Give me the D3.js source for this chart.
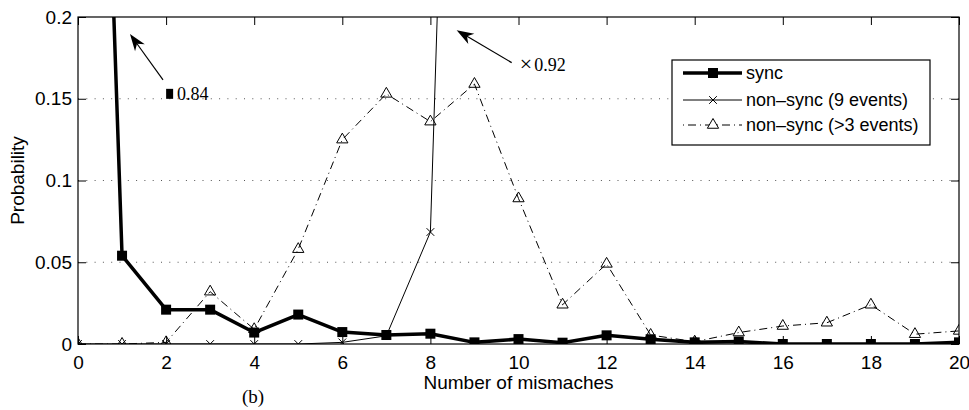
<!DOCTYPE html>
<html>
<head>
<meta charset="utf-8">
<script src="https://cdn.jsdelivr.net/npm/d3@7"></script>
<style>
  body { margin: 0; background: #fff; }
  svg { display: block; }
  text { font-family: "Liberation Sans", Arial, sans-serif; fill: #000; }
  .serif { font-family: "Liberation Serif", "Times New Roman", serif; }
</style>
</head>
<body>
<div id="chart"></div>
<script>
/* data */
var mismatches = d3.range(0, 21);
var syncVals = [0.84, 0.054, 0.021, 0.021, 0.007, 0.018, 0.0073, 0.0055, 0.0063, 0.001,
                0.003, 0.0008, 0.0053, 0.0029, 0.001, 0.0015, 0, 0, 0, 0, 0.001];
var nonSync9Vals = [0, 0, 0, 0, 0, 0, 0.001, 0.005, 0.0685, 0.92];
var nonSync3Vals = [0, 0, 0.001, 0.032, 0.009, 0.058, 0.125, 0.153, 0.136, 0.159,
                    0.089, 0.024, 0.049, 0.0055, 0.0014, 0.007, 0.011, 0.013, 0.024, 0.006, 0.008];
var xTicks = d3.range(0, 21, 2);
var yTicks = [0, 0.05, 0.1, 0.15, 0.2];
var seriesNames = ["sync", "non\u2013sync (9 events)", "non\u2013sync (>3 events)"];

var width = 969, height = 410;
var margin = {top: 17, right: 10, bottom: 66, left: 78};

var x = d3.scaleLinear().domain([0, 20]).range([margin.left, width - margin.right]);
var y = d3.scaleLinear().domain([0, 0.2]).range([height - margin.bottom, margin.top]);

var svg = d3.select("#chart").append("svg")
    .attr("width", width)
    .attr("height", height);

svg.append("defs").append("clipPath")
    .attr("id", "plotClip")
  .append("rect")
    .attr("x", x(0)).attr("y", y(0.2))
    .attr("width", x(20) - x(0)).attr("height", y(0) - y(0.2));

/* dotted horizontal grid */
svg.append("g").selectAll("line")
    .data(yTicks.filter(function(d) { return d > 0 && d < 0.2; }))
    .enter().append("line")
      .attr("x1", x(0)).attr("x2", x(20))
      .attr("y1", function(d) { return y(d); })
      .attr("y2", function(d) { return y(d); })
      .attr("stroke", "#555")
      .attr("stroke-width", 1)
      .attr("stroke-dasharray", "1,7.3");

/* axes with inward ticks on all four sides */
function styleAxis(g) {
  g.select(".domain").remove();
  g.selectAll(".tick line").attr("stroke", "#000");
  g.selectAll(".tick text").attr("font-size", 19).attr("font-family", "Liberation Sans, Arial, sans-serif");
}
svg.append("g")
    .attr("transform", "translate(0," + y(0) + ")")
    .call(d3.axisBottom(x).tickValues(xTicks).tickSizeInner(-8).tickSizeOuter(0).tickPadding(12).tickFormat(d3.format("d")))
    .call(styleAxis);
svg.append("g")
    .attr("transform", "translate(0," + y(0.2) + ")")
    .call(d3.axisTop(x).tickValues(xTicks).tickSizeInner(-8).tickSizeOuter(0).tickFormat(""))
    .call(styleAxis);
svg.append("g")
    .attr("transform", "translate(" + x(0) + ",0)")
    .call(d3.axisLeft(y).tickValues(yTicks).tickSizeInner(-8).tickSizeOuter(0).tickPadding(6).tickFormat(function(d) { return d === 0 ? "0" : String(d); }))
    .call(styleAxis);
svg.append("g")
    .attr("transform", "translate(" + x(20) + ",0)")
    .call(d3.axisRight(y).tickValues(yTicks).tickSizeInner(-8).tickSizeOuter(0).tickFormat(""))
    .call(styleAxis);

/* frame */
svg.append("rect")
    .attr("x", x(0)).attr("y", y(0.2))
    .attr("width", x(20) - x(0)).attr("height", y(0) - y(0.2))
    .attr("fill", "none").attr("stroke", "#000").attr("stroke-width", 1.2);

var plot = svg.append("g").attr("clip-path", "url(#plotClip)");

var line = d3.line()
    .x(function(d, i) { return x(i); })
    .y(function(d) { return y(d); });

/* non-sync (>3 events): dash-dot with open triangles */
plot.append("path")
    .datum(nonSync3Vals)
    .attr("d", line)
    .attr("fill", "none").attr("stroke", "#000").attr("stroke-width", 1)
    .attr("stroke-dasharray", "8,4,1,4");

var tri = d3.symbol().type(d3.symbolTriangle).size(55);
plot.append("g").selectAll("path")
    .data(nonSync3Vals)
    .enter().append("path")
      .attr("d", tri)
      .attr("transform", function(d, i) { return "translate(" + x(i) + "," + y(d) + ")"; })
      .attr("fill", "none").attr("stroke", "#000").attr("stroke-width", 1);

/* non-sync (9 events): thin line with x markers */
plot.append("path")
    .datum(nonSync9Vals)
    .attr("d", line)
    .attr("fill", "none").attr("stroke", "#000").attr("stroke-width", 1);

var cross = d3.symbol().type(d3.symbolX).size(40);
plot.append("g").selectAll("path")
    .data(nonSync9Vals)
    .enter().append("path")
      .attr("d", cross)
      .attr("transform", function(d, i) { return "translate(" + x(i) + "," + y(d) + ")"; })
      .attr("fill", "none").attr("stroke", "#000").attr("stroke-width", 1);

/* sync: thick line with filled squares */
plot.append("path")
    .datum(syncVals)
    .attr("d", line)
    .attr("fill", "none").attr("stroke", "#000").attr("stroke-width", 3.5)
    .attr("stroke-linejoin", "round");

plot.append("g").selectAll("rect")
    .data(syncVals)
    .enter().append("rect")
      .attr("x", function(d, i) { return x(i) - 5; })
      .attr("y", function(d) { return y(d) - 5; })
      .attr("width", 10).attr("height", 10)
      .attr("fill", "#000");

/* annotations for off-scale values */
function arrow(x1, y1, x2, y2) {
  var px1 = x(x1), py1 = y(y1), px2 = x(x2), py2 = y(y2);
  var ang = Math.atan2(py2 - py1, px2 - px1);
  var len = 17, half = 6, notch = 12;
  var bx = px2 - len * Math.cos(ang), by = py2 - len * Math.sin(ang);
  var nx = px2 - notch * Math.cos(ang), ny = py2 - notch * Math.sin(ang);
  var ox = -Math.sin(ang) * half, oy = Math.cos(ang) * half;
  svg.append("line")
      .attr("x1", px1).attr("y1", py1).attr("x2", nx).attr("y2", ny)
      .attr("stroke", "#000").attr("stroke-width", 1.2);
  svg.append("path")
      .attr("d", "M" + px2 + "," + py2 + "L" + (bx + ox) + "," + (by + oy) + "L" + nx + "," + ny + "L" + (bx - ox) + "," + (by - oy) + "Z")
      .attr("fill", "#000");
}
arrow(1.93, 0.1616, 1.18, 0.1896);
arrow(9.845, 0.1721, 8.596, 0.1919);

svg.append("rect")
    .attr("x", x(2.08) - 3.5).attr("y", y(0.153) - 5)
    .attr("width", 7).attr("height", 10)
    .attr("fill", "#000");
svg.append("text")
    .attr("class", "serif")
    .attr("x", x(2.25)).attr("y", y(0.1495))
    .attr("font-size", 18)
    .text(syncVals[0]);
var times = svg.append("text")
    .attr("class", "serif")
    .attr("x", x(10.03)).attr("y", y(0.1668))
    .attr("font-size", 18);
times.append("tspan").attr("font-size", 22).text("\u00d7");
times.append("tspan").attr("dx", 2).text(nonSync9Vals[9]);

/* axis labels */
svg.append("text")
    .attr("transform", "translate(24," + ((y(0) + y(0.2)) / 2) + ")rotate(-90)")
    .attr("text-anchor", "middle")
    .attr("font-size", 19)
    .text("Probability");
svg.append("text")
    .attr("x", (x(0) + x(20)) / 2).attr("y", 389)
    .attr("text-anchor", "middle")
    .attr("font-size", 19)
    .text("Number of mismaches");
svg.append("text")
    .attr("class", "serif")
    .attr("x", 253).attr("y", 403)
    .attr("text-anchor", "middle")
    .attr("font-size", 19)
    .text("(b)");

/* legend */
var legend = svg.append("g").attr("transform", "translate(672,60)");
legend.append("rect")
    .attr("width", 258).attr("height", 85)
    .attr("fill", "#fff").attr("stroke", "#000").attr("stroke-width", 1.2);

var rowY = [13, 40, 65];
var entries = legend.selectAll("g.entry")
    .data(seriesNames)
    .enter().append("g")
      .attr("class", "entry")
      .attr("transform", function(d, i) { return "translate(0," + rowY[i] + ")"; });

entries.append("line")
    .attr("x1", 11).attr("x2", 70)
    .attr("stroke", "#000")
    .attr("stroke-width", function(d, i) { return i === 0 ? 3.5 : 1; })
    .attr("stroke-dasharray", function(d, i) { return i === 2 ? "1,4,8,4" : null; });

entries.filter(function(d, i) { return i === 0; }).append("rect")
    .attr("x", 36).attr("y", -5).attr("width", 10).attr("height", 10).attr("fill", "#000");
entries.filter(function(d, i) { return i === 1; }).append("path")
    .attr("d", cross).attr("transform", "translate(41,0)")
    .attr("fill", "none").attr("stroke", "#000");
entries.filter(function(d, i) { return i === 2; }).append("path")
    .attr("d", tri).attr("transform", "translate(41,0)")
    .attr("fill", "#fff").attr("stroke", "#000");

entries.append("text")
    .attr("x", 74).attr("y", 6)
    .attr("font-size", 18)
    .text(function(d) { return d; });
</script>
</body>
</html>
